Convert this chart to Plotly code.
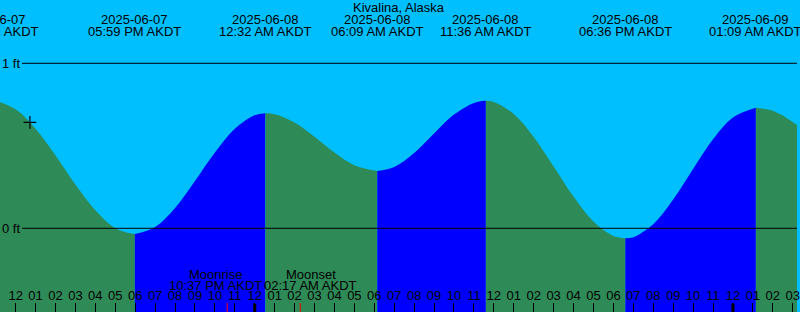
import plotly.graph_objects as go
from datetime import datetime

TITLE = "Kivalina, Alaska"
TZ = "AKDT"

# tide height samples (ft)
SAMPLE_TIMES = [
    "2025-06-07 10:50", "2025-06-07 11:00", "2025-06-07 12:00", "2025-06-07 13:00",
    "2025-06-07 14:00", "2025-06-07 15:00", "2025-06-07 16:00", "2025-06-07 17:00",
    "2025-06-07 17:59", "2025-06-07 19:00", "2025-06-07 20:00", "2025-06-07 21:00",
    "2025-06-07 22:00", "2025-06-07 23:00", "2025-06-08 00:00", "2025-06-08 00:32",
    "2025-06-08 01:00", "2025-06-08 02:00", "2025-06-08 03:00", "2025-06-08 04:00",
    "2025-06-08 05:00", "2025-06-08 06:09", "2025-06-08 07:00", "2025-06-08 08:00",
    "2025-06-08 09:00", "2025-06-08 10:00", "2025-06-08 11:00", "2025-06-08 11:36",
    "2025-06-08 12:00", "2025-06-08 13:00", "2025-06-08 14:00", "2025-06-08 15:00",
    "2025-06-08 16:00", "2025-06-08 17:00", "2025-06-08 18:00", "2025-06-08 18:36",
    "2025-06-08 19:00", "2025-06-08 20:00", "2025-06-08 21:00", "2025-06-08 22:00",
    "2025-06-08 23:00", "2025-06-09 00:00", "2025-06-09 01:09", "2025-06-09 02:00",
    "2025-06-09 03:00", "2025-06-09 04:00",
]
SAMPLE_HEIGHTS = [
    0.772, 0.771, 0.721, 0.603,
    0.441, 0.265, 0.109, 0.001,
    -0.035, 0.008, 0.123, 0.286,
    0.459, 0.603, 0.685, 0.697,
    0.691, 0.641, 0.555, 0.459,
    0.382, 0.347, 0.372, 0.457,
    0.575, 0.689, 0.760, 0.773,
    0.766, 0.693, 0.554, 0.375,
    0.192, 0.041, -0.046, -0.061,
    -0.054, 0.025, 0.174, 0.359,
    0.539, 0.672, 0.731, 0.712,
    0.644, 0.546,
]

# high / low tide events
EXTREME_TIMES = [
    "2025-06-07 10:50", "2025-06-07 17:59", "2025-06-08 00:32", "2025-06-08 06:09",
    "2025-06-08 11:36", "2025-06-08 18:36", "2025-06-09 01:09",
]

MOON_EVENTS = ["Moonrise", "Moonset"]
MOON_TIMES = ["2025-06-07 22:37", "2025-06-08 02:17"]
MOON_LABEL_SHIFT = [-11.5, 10.5]

NOW_TIME = "2025-06-07 12:43"
NOW_HEIGHT = 0.642

MIDNIGHTS = ["2025-06-08 00:00", "2025-06-09 00:00"]

LEVEL_TICKS = [0, 1]
LEVEL_LABELS = ["0 ft", "1 ft"]

VIEW_START = "2025-06-07 11:12:54"
VIEW_END = "2025-06-09 03:12:54"
Y_RANGE = [-0.5073, 1.3836]
FLOOR = -0.7

SKY = "#00BFFF"
FALL = "#2E8B57"
RISE = "#0000FF"
FONT = "Liberation Sans, Arial, sans-serif"

W, H = 800, 312


def pdt(s):
    return datetime.strptime(s, "%Y-%m-%d %H:%M")


def pdts(s):
    return datetime.strptime(s, "%Y-%m-%d %H:%M:%S")


times = [pdt(s) for s in SAMPLE_TIMES]
ext = [pdt(s) for s in EXTREME_TIMES]
idx = [times.index(e) for e in ext] + [len(times) - 1]
v0, v1 = pdts(VIEW_START), pdts(VIEW_END)


def frac(d):
    return (d - v0).total_seconds() / (v1 - v0).total_seconds()


fig = go.Figure()
for a, b in zip(idx[:-1], idx[1:]):
    xs = times[a:b + 1]
    ys = SAMPLE_HEIGHTS[a:b + 1]
    color = RISE if ys[-1] > ys[0] else FALL
    fig.add_trace(go.Scatter(x=[xs[0], xs[-1]], y=[FLOOR, FLOOR], mode="lines",
                             line=dict(width=0, color=color), hoverinfo="skip",
                             showlegend=False))
    fig.add_trace(go.Scatter(x=xs, y=ys, mode="lines", fill="tonexty",
                             fillcolor=color, line=dict(width=0, color=color, shape="spline"),
                             hoverinfo="skip", showlegend=False))

fig.add_trace(go.Scatter(x=[pdt(NOW_TIME)], y=[NOW_HEIGHT], mode="markers",
                         marker=dict(symbol="cross-thin", size=9,
                                     line=dict(width=1.2, color="black")),
                         showlegend=False, hoverinfo="skip"))

shapes = []
ann = []
TXT = dict(size=13, color="black", family=FONT)
for v, lab in zip(LEVEL_TICKS, LEVEL_LABELS):
    shapes.append(dict(type="line", xref="paper", x0=22 / W, x1=1, yref="y", y0=v, y1=v,
                       line=dict(color="black", width=1)))
    ann.append(dict(text=lab, xref="paper", x=0, xanchor="left", xshift=0, yref="y", y=v,
                    yanchor="middle", showarrow=False, font=TXT))

for m in MIDNIGHTS:
    shapes.append(dict(type="line", xref="x", x0=pdt(m), x1=pdt(m), yref="paper",
                       y0=0, y1=8.5 / H, line=dict(color="black", width=3)))
for name, t, sh in zip(MOON_EVENTS, MOON_TIMES, MOON_LABEL_SHIFT):
    shapes.append(dict(type="line", xref="x", x0=pdt(t), x1=pdt(t), yref="paper",
                       y0=0, y1=9 / H, line=dict(color="red", width=1)))
    d = pdt(t)
    ann.append(dict(text=name, x=d, xref="x", xshift=sh, xanchor="center", yref="paper",
                    y=1 - 274 / H, yanchor="middle", showarrow=False, font=TXT))
    ann.append(dict(text=d.strftime("%I:%M %p") + " " + TZ, x=d, xref="x", xshift=sh,
                    xanchor="center", yref="paper", y=1 - 285.5 / H, yanchor="middle",
                    showarrow=False, font=TXT))

for e in ext:
    ann.append(dict(text=e.strftime("%Y-%m-%d"), x=frac(e), xref="paper", xanchor="center",
                    yref="paper", y=1 - 19.5 / H, yanchor="middle", showarrow=False, font=TXT))
    ann.append(dict(text=e.strftime("%I:%M %p") + " " + TZ, x=frac(e), xref="paper",
                    xanchor="center", yref="paper", y=1 - 31.5 / H, yanchor="middle",
                    showarrow=False, font=TXT))

ann.append(dict(text=TITLE, xref="paper", x=0.5, xanchor="center", yref="paper",
                y=1 - 7.5 / H, yanchor="middle", showarrow=False, font=TXT))

fig.update_layout(
    width=W, height=H,
    margin=dict(l=0, r=0, t=0, b=0),
    paper_bgcolor=SKY, plot_bgcolor=SKY,
    showlegend=False,
    shapes=shapes,
    annotations=ann,
    xaxis=dict(type="date", range=[v0, v1], showgrid=False, zeroline=False,
               showline=False, ticks="inside", ticklen=9, tickwidth=1, tickcolor="black",
               dtick=3600000, tick0="2025-06-07 00:00", tickformat="%I",
               ticklabelposition="inside", ticklabeloverflow="allow",
               tickfont=dict(size=13, color="black", family=FONT),
               fixedrange=True),
    yaxis=dict(range=Y_RANGE, visible=False, fixedrange=True),
)

fig.write_html("out.html", config={"displayModeBar": False})
